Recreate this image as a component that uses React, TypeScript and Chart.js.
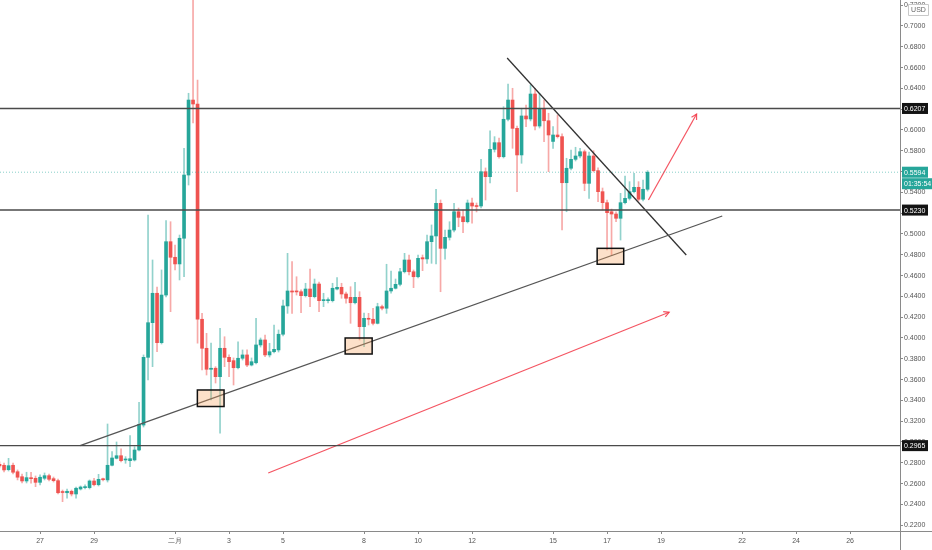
import React, { useEffect, useRef } from "react";
import { Chart, registerables } from "chart.js";

Chart.register(...registerables);

// 4-hour candles, bar index relative to 27 Jan 00:00 (bar 0)
const FIRST_BAR = -9;

const opens = [
  0.2784, 0.2776, 0.2734, 0.2776, 0.2714, 0.2666, 0.2625, 0.2651, 0.2651, 0.2612,
  0.2651, 0.2676, 0.2647, 0.2628, 0.2519, 0.2512, 0.2526, 0.2500, 0.2548, 0.2561,
  0.2561, 0.2625, 0.2589, 0.2641, 0.2635, 0.2776, 0.2843, 0.2868, 0.2827, 0.2820,
  0.2827, 0.2923, 0.3163, 0.3814, 0.4147, 0.4430, 0.3955, 0.4413, 0.4926, 0.4776,
  0.4712, 0.4959, 0.5567, 0.6288, 0.6250, 0.4180, 0.3901, 0.3699, 0.3709, 0.3628,
  0.3901, 0.3814, 0.3782, 0.3714, 0.3805, 0.3837, 0.3740, 0.3762, 0.3933, 0.3981,
  0.3837, 0.3868, 0.3885, 0.4036, 0.4308, 0.4452, 0.4445, 0.4445, 0.4407, 0.4471,
  0.4397, 0.4519, 0.4359, 0.4359, 0.4359, 0.4471, 0.4487, 0.4423, 0.4391, 0.4339,
  0.4391, 0.4109, 0.4189, 0.4180, 0.4141, 0.4301, 0.4286, 0.4452, 0.4478, 0.4516,
  0.4637, 0.4750, 0.4637, 0.4589, 0.4772, 0.4760, 0.4926, 0.4981, 0.5295, 0.4862,
  0.4968, 0.5038, 0.5214, 0.5166, 0.5118, 0.5298, 0.5269, 0.5269, 0.5599, 0.5551,
  0.5814, 0.5878, 0.5743, 0.6103, 0.6288, 0.6016, 0.5760, 0.6135, 0.6106, 0.6346,
  0.6038, 0.6199, 0.6089, 0.5890, 0.5952, 0.5936, 0.5493, 0.5632, 0.5718, 0.5750,
  0.5791, 0.5487, 0.5750, 0.5609, 0.5407, 0.5301, 0.5214, 0.5192, 0.5151, 0.5301,
  0.5343, 0.5407, 0.5449, 0.5334, 0.5430,
];

const highs = [
  0.2808, 0.2798, 0.2843, 0.2798, 0.2731, 0.2692, 0.2709, 0.2709, 0.2673, 0.2683,
  0.2702, 0.2692, 0.2663, 0.2644, 0.2538, 0.2548, 0.2538, 0.2567, 0.2577, 0.2587,
  0.2635, 0.2651, 0.2689, 0.2654, 0.3173, 0.2907, 0.3000, 0.2933, 0.2859, 0.3061,
  0.2955, 0.3382, 0.3837, 0.5183, 0.4750, 0.4490, 0.4654, 0.5128, 0.5118, 0.4894,
  0.4990, 0.5824, 0.6353, 0.7600, 0.6481, 0.4237, 0.4045, 0.3952, 0.3724, 0.4093,
  0.4012, 0.3837, 0.3808, 0.3964, 0.3885, 0.3885, 0.3808, 0.4189, 0.4000, 0.4029,
  0.3949, 0.4125, 0.4077, 0.4365, 0.4814, 0.4734, 0.4589, 0.4462, 0.4526, 0.4663,
  0.4567, 0.4538, 0.4430, 0.4385, 0.4526, 0.4580, 0.4526, 0.4442, 0.4493, 0.4536,
  0.4445, 0.4240, 0.4237, 0.4286, 0.4334, 0.4317, 0.4709, 0.4644, 0.4567, 0.4670,
  0.4814, 0.4798, 0.4654, 0.4798, 0.4798, 0.4990, 0.5087, 0.5430, 0.5327, 0.5038,
  0.5118, 0.5295, 0.5250, 0.5231, 0.5327, 0.5346, 0.5298, 0.5718, 0.5635, 0.5993,
  0.5936, 0.5923, 0.6224, 0.6442, 0.6401, 0.6038, 0.6209, 0.6240, 0.6433, 0.6401,
  0.6353, 0.6288, 0.6161, 0.6032, 0.6144, 0.5962, 0.5728, 0.5808, 0.5834, 0.5824,
  0.5808, 0.5788, 0.5801, 0.5635, 0.5442, 0.5327, 0.5240, 0.5212, 0.5391, 0.5558,
  0.5503, 0.5584, 0.5503, 0.5519, 0.5609,
];

const lows = [
  0.2750, 0.2712, 0.2721, 0.2692, 0.2635, 0.2606, 0.2606, 0.2603, 0.2570, 0.2587,
  0.2635, 0.2625, 0.2615, 0.2500, 0.2426, 0.2459, 0.2481, 0.2459, 0.2538, 0.2548,
  0.2548, 0.2577, 0.2577, 0.2625, 0.2615, 0.2769, 0.2837, 0.2808, 0.2795, 0.2762,
  0.2817, 0.2913, 0.3144, 0.3596, 0.3724, 0.3868, 0.3942, 0.4394, 0.4253, 0.4654,
  0.4558, 0.4589, 0.5471, 0.6067, 0.3949, 0.3692, 0.3644, 0.3404, 0.3567, 0.3084,
  0.3724, 0.3628, 0.3548, 0.3702, 0.3788, 0.3724, 0.3731, 0.3750, 0.3913, 0.3820,
  0.3817, 0.3856, 0.3865, 0.4019, 0.4237, 0.4237, 0.4413, 0.4243, 0.4394, 0.4301,
  0.4385, 0.4253, 0.4301, 0.4337, 0.4346, 0.4462, 0.4382, 0.4334, 0.4141, 0.4327,
  0.3981, 0.3916, 0.4125, 0.4125, 0.4135, 0.4269, 0.4237, 0.4430, 0.4471, 0.4500,
  0.4625, 0.4606, 0.4484, 0.4577, 0.4647, 0.4718, 0.4718, 0.4712, 0.4445, 0.4757,
  0.4942, 0.5019, 0.5070, 0.5012, 0.5106, 0.5103, 0.5212, 0.5250, 0.5327, 0.5490,
  0.5788, 0.5728, 0.5731, 0.6087, 0.5824, 0.5407, 0.5680, 0.6032, 0.6087, 0.6000,
  0.6019, 0.5887, 0.5599, 0.5824, 0.5923, 0.5038, 0.5214, 0.5615, 0.5702, 0.5731,
  0.5416, 0.5343, 0.5596, 0.5310, 0.5231, 0.4846, 0.4798, 0.5118, 0.4942, 0.5288,
  0.5327, 0.5394, 0.5317, 0.5317, 0.5413,
];

const closes = [
  0.2769, 0.2731, 0.2772, 0.2709, 0.2661, 0.2625, 0.2657, 0.2647, 0.2612, 0.2661,
  0.2676, 0.2641, 0.2628, 0.2512, 0.2514, 0.2526, 0.2500, 0.2555, 0.2567, 0.2564,
  0.2625, 0.2589, 0.2641, 0.2637, 0.2776, 0.2846, 0.2868, 0.2820, 0.2830, 0.2839,
  0.2923, 0.3170, 0.3814, 0.4147, 0.4430, 0.3955, 0.4413, 0.4926, 0.4776, 0.4712,
  0.4959, 0.5567, 0.6288, 0.6250, 0.4180, 0.3901, 0.3699, 0.3709, 0.3628, 0.3901,
  0.3814, 0.3772, 0.3714, 0.3805, 0.3837, 0.3740, 0.3772, 0.3933, 0.3981, 0.3837,
  0.3868, 0.3891, 0.4036, 0.4308, 0.4452, 0.4442, 0.4443, 0.4407, 0.4471, 0.4397,
  0.4519, 0.4359, 0.4361, 0.4365, 0.4478, 0.4487, 0.4423, 0.4382, 0.4339, 0.4391,
  0.4109, 0.4189, 0.4180, 0.4141, 0.4301, 0.4286, 0.4452, 0.4478, 0.4516, 0.4637,
  0.4750, 0.4637, 0.4589, 0.4766, 0.4760, 0.4926, 0.4981, 0.5295, 0.4862, 0.4968,
  0.5038, 0.5214, 0.5160, 0.5118, 0.5298, 0.5269, 0.5264, 0.5599, 0.5551, 0.5814,
  0.5878, 0.5743, 0.6103, 0.6288, 0.6016, 0.5760, 0.6135, 0.6106, 0.6346, 0.6038,
  0.6199, 0.6089, 0.5952, 0.5952, 0.5936, 0.5493, 0.5632, 0.5718, 0.5750, 0.5791,
  0.5487, 0.5750, 0.5609, 0.5407, 0.5301, 0.5205, 0.5192, 0.5151, 0.5301, 0.5343,
  0.5407, 0.5449, 0.5334, 0.5430, 0.5594,
];

// x-axis (bar index of each day label)
const xTickBars = [0, 12, 30, 42, 54, 72, 84, 96, 114, 126, 138, 156, 168, 180];
const xTickLabels = ["27", "29", "二月", "3", "5", "8", "10", "12", "15", "17", "19", "22", "24", "26"];

// horizontal levels & current price
const levels = [0.6207, 0.523, 0.2965];
const lastPrice = 0.5594;
const countdown = "01:35:54";
const currency = "USD";

// drawings in (bar index, price)
const supportLine = [
  { x: 8.9, y: 0.2965 },
  { x: 151.6, y: 0.5173 },
];
const resistanceLine = [
  { x: 103.8, y: 0.6692 },
  { x: 143.6, y: 0.4798 },
];
const longArrow = [
  { x: 50.7, y: 0.2702 },
  { x: 139.8, y: 0.4247 },
];
const shortArrow = [
  { x: 135.2, y: 0.5327 },
  { x: 145.9, y: 0.6154 },
];
const boxes = [
  { x0: 34.96, x1: 40.89, top: 0.35, bottom: 0.3341 },
  { x0: 67.8, x1: 73.8, top: 0.4, bottom: 0.3846 },
  { x0: 123.8, x1: 129.7, top: 0.4862, bottom: 0.4709 },
];

const X_MIN = -8.9;
const X_MAX = 191.1;
const Y_MIN = 0.2144;
const Y_MAX = 0.725;

const UP = "#26a69a";
const DOWN = "#ef5350";
const UP_WICK = "rgba(38,166,154,0.5)";
const DOWN_WICK = "rgba(239,83,80,0.5)";
const FONT = "'Liberation Sans', Arial, sans-serif";

const overlayPlugin = {
  id: "overlay",
  afterDatasetsDraw(chart: any) {
    const { ctx, chartArea } = chart;
    const xs = chart.scales.x;
    const ys = chart.scales.y;
    ctx.save();
    ctx.beginPath();
    ctx.rect(chartArea.left, chartArea.top, chartArea.right - chartArea.left, chartArea.bottom - chartArea.top);
    ctx.clip();
    // boxes
    boxes.forEach((b) => {
      const l = xs.getPixelForValue(b.x0);
      const r = xs.getPixelForValue(b.x1);
      const t = ys.getPixelForValue(b.top);
      const bt = ys.getPixelForValue(b.bottom);
      ctx.fillStyle = "rgba(245,160,90,0.33)";
      ctx.fillRect(l, t, r - l, bt - t);
      ctx.strokeStyle = "#111";
      ctx.lineWidth = 1.5;
      ctx.strokeRect(l, t, r - l, bt - t);
    });
    // arrow heads
    [longArrow, shortArrow].forEach((a) => {
      const x0 = xs.getPixelForValue(a[0].x);
      const y0 = ys.getPixelForValue(a[0].y);
      const x1 = xs.getPixelForValue(a[1].x);
      const y1 = ys.getPixelForValue(a[1].y);
      const ang = Math.atan2(y1 - y0, x1 - x0);
      const len = 6;
      ctx.strokeStyle = "rgba(242,54,69,0.85)";
      ctx.lineWidth = 1.2;
      ctx.beginPath();
      ctx.moveTo(x1 - len * Math.cos(ang - 0.5), y1 - len * Math.sin(ang - 0.5));
      ctx.lineTo(x1, y1);
      ctx.lineTo(x1 - len * Math.cos(ang + 0.5), y1 - len * Math.sin(ang + 0.5));
      ctx.stroke();
    });
    ctx.restore();
  },
  afterDraw(chart: any) {
    const { ctx, chartArea, width, height } = chart;
    const ys = chart.scales.y;
    ctx.save();
    // axis lines
    ctx.strokeStyle = "#8a8a8a";
    ctx.lineWidth = 1;
    ctx.beginPath();
    ctx.moveTo(0, Math.round(chartArea.bottom) + 0.5);
    ctx.lineTo(width, Math.round(chartArea.bottom) + 0.5);
    ctx.moveTo(Math.round(chartArea.right) + 0.5, 0);
    ctx.lineTo(Math.round(chartArea.right) + 0.5, height);
    ctx.stroke();

    ctx.font = `7px ${FONT}`;
    ctx.textBaseline = "middle";
    ctx.textAlign = "left";
    const bx = chartArea.right + 2;
    const drawTag = (txt: string, yc: number, bg: string, w: number) => {
      ctx.fillStyle = bg;
      ctx.fillRect(bx, yc - 5.5, w, 11);
      ctx.fillStyle = "#fff";
      ctx.fillText(txt, bx + 2, yc + 0.5);
    };
    levels.forEach((lv) => drawTag(lv.toFixed(4), ys.getPixelForValue(lv), "#131313", 26));
    const py = ys.getPixelForValue(lastPrice);
    drawTag(lastPrice.toFixed(4), py, UP, 26);
    drawTag(countdown, py + 11.5, UP, 30);

    // currency box
    ctx.fillStyle = "#fff";
    ctx.strokeStyle = "#c8c8c8";
    ctx.lineWidth = 1;
    const ux = chartArea.right + 8.5;
    ctx.beginPath();
    ctx.rect(ux, 4.5, 20, 11);
    ctx.fill();
    ctx.stroke();
    ctx.fillStyle = "#666";
    ctx.textAlign = "center";
    ctx.fillText(currency, ux + 10, 10.5);
    ctx.restore();
  },
};

export default function App() {
  const ref = useRef<HTMLCanvasElement>(null);
  useEffect(() => {
    document.body.style.margin = "0";
    const bodies = opens.map((o, i) => ({ x: FIRST_BAR + i, y: [o, closes[i]] }));
    const wicks = opens.map((_, i) => ({ x: FIRST_BAR + i, y: [lows[i], highs[i]] }));
    const bodyColors = opens.map((o, i) => (closes[i] >= o ? UP : DOWN));
    const wickColors = opens.map((o, i) => (closes[i] >= o ? UP_WICK : DOWN_WICK));

    const lineDs = (data: any[], color: string, width: number, dash: number[] = []) => ({
      type: "line" as const,
      data,
      borderColor: color,
      borderWidth: width,
      borderDash: dash,
      pointRadius: 0,
      fill: false,
      tension: 0,
      clip: 0,
      order: 1,
    });

    const zeroPad = (scale: any) => {
      scale.paddingTop = 0;
      scale.paddingBottom = 0;
      scale.paddingLeft = 0;
      scale.paddingRight = 0;
    };

    const chart = new Chart(ref.current as HTMLCanvasElement, {
      type: "bar",
      data: {
        datasets: [
          {
            type: "bar",
            data: wicks as any,
            backgroundColor: wickColors,
            barThickness: 1,
            grouped: false,
            borderWidth: 0,
            clip: 0,
            order: 10,
          } as any,
          {
            type: "bar",
            data: bodies as any,
            backgroundColor: bodyColors,
            barThickness: 3,
            grouped: false,
            borderWidth: 0,
            minBarLength: 1,
            clip: 0,
            order: 9,
          } as any,
          lineDs([{ x: X_MIN, y: lastPrice }, { x: X_MAX, y: lastPrice }], "rgba(38,166,154,0.55)", 1, [1, 2]),
          ...levels.map((lv) => lineDs([{ x: X_MIN, y: lv }, { x: X_MAX, y: lv }], "#4a4a4a", 1.4)),
          lineDs(supportLine, "#555", 1.3),
          lineDs(resistanceLine, "#333", 1.3),
          lineDs(longArrow, "rgba(242,54,69,0.85)", 1.2),
          lineDs(shortArrow, "rgba(242,54,69,0.85)", 1.2),
        ],
      },
      options: {
        animation: false,
        responsive: true,
        maintainAspectRatio: false,
        layout: { padding: 0 },
        plugins: { legend: { display: false }, tooltip: { enabled: false } },
        scales: {
          x: {
            type: "linear",
            min: X_MIN,
            max: X_MAX,
            offset: false,
            border: { display: false },
            grid: {
              display: true,
              offset: false,
              drawOnChartArea: false,
              drawTicks: true,
              tickLength: 3,
              color: "#8a8a8a",
            },
            afterBuildTicks: (scale: any) => {
              scale.ticks = xTickBars.map((v) => ({ value: v }));
            },
            afterFit: (scale: any) => {
              scale.height = 19;
              zeroPad(scale);
            },
            ticks: {
              autoSkip: false,
              maxRotation: 0,
              padding: 3,
              color: "#555",
              font: { size: 7, family: FONT },
              callback: (_v: any, i: number) => xTickLabels[i],
            },
          },
          y: {
            type: "linear",
            position: "right",
            min: Y_MIN,
            max: Y_MAX,
            border: { display: false },
            grid: { display: true, drawOnChartArea: false, drawTicks: true, tickLength: 3, color: "#8a8a8a" },
            afterFit: (scale: any) => {
              scale.width = 32;
              zeroPad(scale);
            },
            ticks: {
              stepSize: 0.02,
              includeBounds: false,
              padding: 1,
              color: "#555",
              font: { size: 7, family: FONT },
              callback: (v: any) => Number(v).toFixed(4),
            },
          },
        },
      },
      plugins: [overlayPlugin],
    } as any);
    return () => chart.destroy();
  }, []);
  return (
    <div style={{ position: "fixed", left: 0, top: 0, width: 932, height: 550, background: "#fff" }}>
      <canvas ref={ref} />
    </div>
  );
}
